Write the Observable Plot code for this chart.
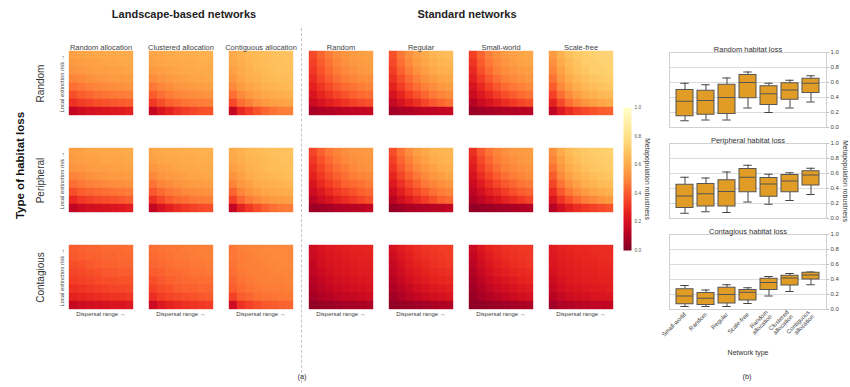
<!DOCTYPE html>
<html>
<head>
<meta charset="utf-8">
<script src="https://cdn.jsdelivr.net/npm/d3@7"></script>
<script src="https://cdn.jsdelivr.net/npm/@observablehq/plot@0.6"></script>
<style>
  html, body { margin: 0; padding: 0; background: #fff; }
  #fig { position: relative; width: 850px; height: 387px; overflow: hidden;
         font-family: "Liberation Sans", Arial, sans-serif; color: #222; }
  #fig > * { position: absolute; }
  .lbl { white-space: nowrap; transform: translate(-50%, -50%); line-height: 1; }
  .sep { left: 301px; top: 28px; height: 355px; width: 0; border-left: 1px dashed #c4c4c4; }
</style>
</head>
<body>
<div id="fig">
  <div class="sep"></div>
  <div class="lbl" style="left:184px; top:14px; font-size:11px; font-weight:bold; color:#222;">Landscape-based networks</div>
  <div class="lbl" style="left:467px; top:14px; font-size:11px; font-weight:bold; color:#222;">Standard networks</div>
  <div class="lbl" style="left:302px; top:377px; font-size:7.5px; color:#333;">(a)</div>
  <div class="lbl" style="left:747px; top:377px; font-size:7.5px; color:#333;">(b)</div>
  <div class="lbl" style="left:748px; top:352px; font-size:7px; color:#333;">Network type</div>
</div>
<script>
// ---------- categories ----------
const lossTypes = ["Random", "Peripheral", "Contagious"];
const networks = ["Random allocation", "Clustered allocation", "Contiguous allocation",
                  "Random", "Regular", "Small-world", "Scale-free"];
const boxPanels = ["Random habitat loss", "Peripheral habitat loss", "Contagious habitat loss"];
const boxCategories = ["Small-world", "Random", "Regular", "Scale-free",
                       "Random allocation", "Clustered allocation", "Contiguous allocation"];
const colorTicks = [0, 0.2, 0.4, 0.6, 0.8, 1.0];
const boxTicks = [0, 0.2, 0.4, 0.6, 0.8, 1.0];

// ---------- robustness grids: rows top (high extinction risk) to bottom, columns short to long dispersal ----------
const randomLossRandomAlloc = [
  [.57,.58,.58,.59,.59,.59,.60,.60],
  [.55,.56,.57,.57,.58,.58,.59,.59],
  [.53,.54,.55,.56,.56,.57,.57,.58],
  [.49,.50,.52,.53,.54,.55,.55,.56],
  [.44,.46,.48,.49,.50,.51,.52,.53],
  [.37,.40,.42,.44,.45,.46,.47,.48],
  [.30,.33,.35,.37,.38,.39,.40,.41],
  [.15,.18,.20,.21,.22,.23,.24,.26]];
const randomLossClusteredAlloc = [
  [.58,.59,.60,.60,.61,.61,.62,.62],
  [.57,.58,.59,.59,.60,.60,.61,.61],
  [.55,.56,.57,.58,.59,.59,.60,.60],
  [.51,.53,.55,.56,.57,.58,.58,.59],
  [.46,.49,.51,.53,.54,.55,.56,.57],
  [.40,.44,.47,.49,.50,.51,.52,.53],
  [.32,.37,.41,.43,.45,.46,.47,.48],
  [.16,.22,.26,.30,.33,.35,.37,.38]];
const randomLossContiguousAlloc = [
  [.60,.62,.64,.65,.66,.67,.68,.68],
  [.59,.61,.63,.65,.66,.67,.67,.68],
  [.57,.60,.62,.64,.65,.66,.67,.67],
  [.54,.58,.61,.62,.64,.65,.66,.66],
  [.50,.55,.58,.60,.62,.63,.64,.65],
  [.44,.50,.54,.57,.59,.60,.61,.62],
  [.36,.44,.48,.52,.54,.56,.57,.58],
  [.16,.28,.33,.38,.42,.45,.47,.48]];
const randomLossRandomNet = [
  [.36,.42,.47,.51,.53,.55,.56,.57],
  [.34,.40,.45,.49,.52,.54,.55,.56],
  [.32,.38,.43,.47,.50,.52,.54,.55],
  [.29,.35,.40,.44,.47,.49,.51,.52],
  [.26,.31,.36,.40,.43,.45,.47,.49],
  [.22,.27,.31,.35,.38,.41,.43,.44],
  [.17,.21,.25,.28,.31,.34,.36,.38],
  [.08,.10,.11,.12,.13,.14,.15,.16]];
const randomLossRegularNet = [
  [.38,.46,.52,.57,.60,.63,.65,.66],
  [.36,.44,.50,.55,.58,.61,.63,.64],
  [.33,.41,.47,.52,.56,.59,.61,.62],
  [.30,.37,.43,.48,.52,.55,.58,.59],
  [.26,.33,.39,.44,.48,.51,.54,.56],
  [.21,.27,.33,.38,.42,.46,.49,.51],
  [.16,.21,.26,.30,.35,.39,.42,.45],
  [.07,.09,.10,.12,.13,.14,.15,.16]];
const randomLossSmallWorldNet = [
  [.34,.42,.48,.52,.55,.57,.58,.59],
  [.31,.40,.46,.50,.53,.55,.57,.58],
  [.28,.37,.43,.48,.51,.53,.55,.56],
  [.25,.33,.39,.44,.48,.50,.52,.54],
  [.21,.28,.34,.39,.43,.46,.48,.50],
  [.17,.23,.28,.33,.37,.40,.43,.45],
  [.12,.17,.21,.25,.29,.32,.35,.37],
  [.05,.07,.08,.09,.10,.11,.12,.13]];
const randomLossScaleFreeNet = [
  [.55,.62,.67,.70,.72,.73,.74,.74],
  [.52,.60,.65,.68,.71,.72,.73,.74],
  [.49,.57,.63,.67,.69,.71,.72,.73],
  [.45,.54,.60,.64,.67,.69,.70,.71],
  [.40,.50,.56,.61,.64,.66,.68,.69],
  [.34,.44,.51,.56,.60,.62,.64,.65],
  [.26,.36,.44,.49,.53,.56,.58,.60],
  [.14,.23,.29,.33,.36,.38,.40,.41]];

const peripheralLossRandomAlloc = [
  [.56,.57,.58,.58,.59,.59,.59,.60],
  [.55,.56,.57,.57,.58,.58,.58,.59],
  [.53,.54,.55,.56,.56,.57,.57,.58],
  [.49,.50,.52,.53,.54,.55,.55,.56],
  [.44,.46,.48,.49,.50,.51,.52,.53],
  [.37,.40,.42,.43,.44,.45,.46,.47],
  [.28,.32,.34,.36,.37,.38,.39,.41],
  [.14,.17,.19,.20,.21,.22,.23,.25]];
const peripheralLossClusteredAlloc = [
  [.58,.59,.60,.60,.61,.61,.62,.62],
  [.57,.58,.59,.59,.60,.60,.61,.61],
  [.54,.56,.57,.58,.59,.59,.60,.60],
  [.50,.53,.55,.56,.57,.58,.58,.59],
  [.45,.49,.51,.53,.54,.55,.56,.57],
  [.39,.43,.46,.48,.50,.51,.52,.53],
  [.30,.36,.40,.43,.44,.46,.47,.48],
  [.15,.21,.25,.29,.32,.34,.36,.37]];
const peripheralLossContiguousAlloc = [
  [.60,.62,.64,.65,.66,.67,.67,.68],
  [.59,.61,.63,.64,.65,.66,.67,.67],
  [.57,.59,.62,.63,.65,.66,.66,.67],
  [.53,.57,.60,.62,.63,.64,.65,.66],
  [.49,.54,.57,.60,.61,.62,.63,.64],
  [.42,.49,.53,.56,.58,.59,.60,.61],
  [.34,.42,.47,.50,.53,.55,.56,.57],
  [.15,.26,.32,.37,.41,.44,.46,.47]];
const peripheralLossRandomNet = [
  [.35,.41,.46,.49,.52,.53,.54,.55],
  [.32,.38,.43,.47,.50,.52,.53,.54],
  [.29,.35,.40,.44,.47,.50,.52,.53],
  [.26,.32,.37,.41,.44,.47,.49,.50],
  [.22,.28,.33,.37,.41,.43,.45,.47],
  [.18,.23,.28,.32,.35,.38,.41,.43],
  [.13,.18,.22,.26,.29,.32,.35,.38],
  [.06,.07,.08,.10,.11,.12,.13,.15]];
const peripheralLossRegularNet = [
  [.37,.45,.51,.56,.59,.62,.63,.64],
  [.34,.42,.48,.53,.57,.60,.62,.63],
  [.31,.39,.45,.50,.54,.57,.60,.61],
  [.27,.35,.41,.46,.50,.54,.56,.58],
  [.23,.30,.36,.41,.46,.49,.52,.54],
  [.18,.25,.31,.36,.40,.44,.47,.49],
  [.13,.19,.24,.29,.33,.37,.41,.43],
  [.05,.07,.09,.10,.11,.12,.13,.15]];
const peripheralLossSmallWorldNet = [
  [.30,.39,.45,.49,.52,.54,.55,.56],
  [.27,.36,.42,.47,.50,.52,.54,.55],
  [.24,.33,.39,.44,.48,.50,.52,.53],
  [.21,.29,.35,.40,.44,.47,.49,.51],
  [.17,.24,.30,.35,.39,.42,.45,.47],
  [.14,.19,.25,.29,.33,.37,.40,.42],
  [.10,.14,.18,.22,.26,.29,.32,.35],
  [.04,.05,.06,.07,.08,.09,.10,.11]];
const peripheralLossScaleFreeNet = [
  [.52,.60,.65,.68,.70,.71,.72,.73],
  [.49,.57,.63,.66,.69,.70,.71,.72],
  [.45,.54,.60,.64,.67,.69,.70,.71],
  [.40,.50,.57,.61,.64,.66,.68,.69],
  [.35,.45,.52,.57,.61,.63,.65,.66],
  [.29,.39,.46,.51,.55,.58,.60,.62],
  [.22,.31,.38,.43,.47,.50,.53,.55],
  [.12,.19,.25,.29,.32,.34,.36,.38]];

const contagiousLossRandomAlloc = [
  [.40,.41,.42,.42,.43,.43,.43,.44],
  [.39,.40,.41,.41,.42,.42,.43,.43],
  [.37,.38,.39,.40,.41,.41,.42,.42],
  [.35,.36,.37,.38,.39,.39,.40,.40],
  [.33,.34,.35,.36,.37,.37,.38,.38],
  [.30,.31,.32,.33,.34,.35,.35,.36],
  [.26,.27,.28,.29,.30,.31,.31,.32],
  [.16,.18,.19,.20,.21,.22,.22,.23]];
const contagiousLossClusteredAlloc = [
  [.44,.45,.46,.46,.47,.47,.48,.48],
  [.43,.44,.45,.46,.46,.47,.47,.48],
  [.42,.43,.44,.45,.45,.46,.46,.47],
  [.40,.41,.43,.43,.44,.45,.45,.46],
  [.37,.39,.41,.42,.43,.43,.44,.44],
  [.34,.37,.38,.40,.41,.41,.42,.42],
  [.29,.33,.35,.36,.37,.38,.39,.40],
  [.17,.23,.26,.28,.30,.31,.32,.33]];
const contagiousLossContiguousAlloc = [
  [.46,.48,.49,.49,.50,.50,.50,.50],
  [.46,.47,.48,.49,.49,.50,.50,.50],
  [.45,.47,.48,.48,.49,.49,.50,.50],
  [.44,.46,.47,.48,.48,.49,.49,.49],
  [.42,.45,.46,.47,.48,.48,.48,.49],
  [.40,.43,.45,.46,.47,.47,.47,.48],
  [.34,.40,.42,.44,.45,.45,.46,.46],
  [.18,.30,.34,.37,.39,.40,.41,.42]];
const contagiousLossRandomNet = [
  [.18,.21,.23,.24,.25,.26,.26,.27],
  [.17,.20,.22,.23,.24,.25,.26,.26],
  [.15,.19,.21,.22,.23,.24,.25,.25],
  [.14,.17,.19,.21,.22,.23,.24,.24],
  [.12,.15,.17,.19,.20,.21,.22,.23],
  [.10,.13,.15,.17,.18,.19,.20,.21],
  [.08,.10,.12,.14,.15,.16,.17,.18],
  [.04,.05,.06,.07,.08,.08,.09,.10]];
const contagiousLossRegularNet = [
  [.20,.24,.27,.29,.31,.32,.33,.33],
  [.18,.22,.25,.28,.30,.31,.32,.33],
  [.16,.20,.24,.26,.28,.30,.31,.32],
  [.14,.18,.22,.24,.26,.28,.29,.30],
  [.12,.16,.19,.22,.24,.26,.27,.28],
  [.10,.13,.16,.19,.21,.23,.24,.25],
  [.07,.10,.13,.15,.17,.19,.20,.22],
  [.04,.05,.06,.07,.08,.09,.10,.11]];
const contagiousLossSmallWorldNet = [
  [.17,.22,.26,.28,.30,.31,.32,.32],
  [.15,.20,.24,.27,.29,.30,.31,.32],
  [.13,.18,.22,.25,.27,.29,.30,.31],
  [.11,.16,.20,.23,.25,.27,.28,.29],
  [.09,.13,.17,.20,.22,.24,.26,.27],
  [.07,.11,.14,.17,.19,.21,.23,.24],
  [.05,.08,.11,.13,.15,.17,.19,.20],
  [.03,.04,.05,.06,.07,.08,.09,.10]];
const contagiousLossScaleFreeNet = [
  [.24,.26,.27,.28,.28,.29,.29,.29],
  [.23,.25,.26,.27,.28,.28,.29,.29],
  [.22,.24,.25,.26,.27,.27,.28,.28],
  [.20,.23,.24,.25,.26,.26,.27,.27],
  [.18,.21,.23,.24,.25,.25,.26,.26],
  [.16,.19,.21,.22,.23,.24,.24,.25],
  [.12,.16,.18,.19,.20,.21,.22,.22],
  [.07,.10,.11,.12,.13,.14,.14,.15]];

// ---------- box summaries per network type: [whisker low, Q1, median, Q3, whisker high] ----------
const randomLossBoxes = [
  [0.09, 0.15, 0.35, 0.50, 0.59],
  [0.10, 0.17, 0.36, 0.49, 0.57],
  [0.10, 0.18, 0.40, 0.57, 0.66],
  [0.26, 0.39, 0.60, 0.70, 0.74],
  [0.20, 0.30, 0.45, 0.55, 0.59],
  [0.26, 0.37, 0.50, 0.59, 0.63],
  [0.34, 0.46, 0.59, 0.65, 0.69]];
const peripheralLossBoxes = [
  [0.07, 0.14, 0.30, 0.45, 0.55],
  [0.09, 0.16, 0.33, 0.46, 0.54],
  [0.08, 0.16, 0.36, 0.51, 0.62],
  [0.22, 0.35, 0.55, 0.66, 0.71],
  [0.19, 0.29, 0.46, 0.54, 0.59],
  [0.24, 0.35, 0.50, 0.58, 0.61],
  [0.32, 0.44, 0.58, 0.63, 0.67]];
const contagiousLossBoxes = [
  [0.04, 0.07, 0.18, 0.27, 0.32],
  [0.04, 0.06, 0.15, 0.22, 0.26],
  [0.04, 0.08, 0.20, 0.29, 0.33],
  [0.08, 0.12, 0.23, 0.26, 0.29],
  [0.18, 0.26, 0.36, 0.41, 0.44],
  [0.24, 0.32, 0.42, 0.45, 0.48],
  [0.33, 0.40, 0.46, 0.49, 0.50]];

// ---------- tables ----------
const heatmaps = [
  ["Random", randomLossRandomAlloc, randomLossClusteredAlloc, randomLossContiguousAlloc,
   randomLossRandomNet, randomLossRegularNet, randomLossSmallWorldNet, randomLossScaleFreeNet],
  ["Peripheral", peripheralLossRandomAlloc, peripheralLossClusteredAlloc, peripheralLossContiguousAlloc,
   peripheralLossRandomNet, peripheralLossRegularNet, peripheralLossSmallWorldNet, peripheralLossScaleFreeNet],
  ["Contagious", contagiousLossRandomAlloc, contagiousLossClusteredAlloc, contagiousLossContiguousAlloc,
   contagiousLossRandomNet, contagiousLossRegularNet, contagiousLossSmallWorldNet, contagiousLossScaleFreeNet]
];
const cells = [];
for (const [loss, ...grids] of heatmaps) {
  grids.forEach((grid, k) => grid.forEach((rowValues, row) => rowValues.forEach((value, col) =>
    cells.push({loss, network: networks[k], row, col, value}))));
}

const boxRows = [];
[randomLossBoxes, peripheralLossBoxes, contagiousLossBoxes].forEach((panel, i) =>
  panel.forEach(([low, q1, med, q3, high], j) =>
    boxRows.push({panel: boxPanels[i], type: boxCategories[j], low, q1, med, q3, high})));

// ---------- shared styling ----------
const font = "Liberation Sans, Arial, sans-serif";
const colorOptions = {type: "linear", scheme: "ylorrd", reverse: true, domain: [0, 1]};
const arrow = "\u2192";
const fig = document.getElementById("fig");
function place(el, left, top) {
  el.style.position = "absolute";
  el.style.left = left + "px";
  el.style.top = top + "px";
  fig.appendChild(el);
}

// ---------- heatmap grid ----------
const heat = Plot.plot({
  width: 620, height: 340,
  marginLeft: 65, marginTop: 49, marginRight: 3, marginBottom: 29,
  style: {background: "transparent", overflow: "visible", fontFamily: font},
  fx: {domain: networks, paddingInner: 0.157, paddingOuter: 0, axis: null},
  fy: {domain: lossTypes, paddingInner: 0.299, paddingOuter: 0, axis: null},
  x: {type: "band", domain: d3.range(8), padding: 0, axis: null},
  y: {type: "band", domain: d3.range(8), padding: 0, axis: null},
  color: colorOptions,
  marks: [
    Plot.cell(cells, {x: "col", y: "row", fx: "network", fy: "loss", fill: "value",
                      stroke: "value", strokeWidth: 0.4, inset: 0}),
    // column titles
    Plot.text(networks, {fx: d => d, fy: () => lossTypes[0], frameAnchor: "top", dy: -5,
                         text: d => d, fontSize: 7.5, fill: "#444"}),
    // row titles
    Plot.text(lossTypes, {fy: d => d, fx: () => networks[0], frameAnchor: "left", textAnchor: "middle",
                          dx: -27, rotate: -90, text: d => d, fontSize: 10, fill: "#333"}),
    Plot.text(lossTypes, {fy: d => d, fx: () => networks[0], frameAnchor: "left", textAnchor: "middle",
                          dx: -5.5, rotate: -90, text: () => "Local extinction risk " + arrow,
                          fontSize: 5.8, fill: "#444"}),
    Plot.text(["Type of habitat loss"], {fy: () => lossTypes[1], fx: () => networks[0], frameAnchor: "left",
                          textAnchor: "middle", dx: -47, dy: -15, rotate: -90, text: d => d,
                          fontSize: 11.5, fontWeight: "bold", fill: "#111"}),
    // bottom axis captions
    Plot.text(networks, {fx: d => d, fy: () => lossTypes[2], frameAnchor: "bottom", dy: 4,
                         text: () => "Dispersal range " + arrow, fontSize: 6, fill: "#444"})
  ]
});
place(heat, 0, 0);

// ---------- colour bar ----------
const bar = Plot.plot({
  width: 40, height: 157,
  marginLeft: 5, marginRight: 27, marginTop: 7, marginBottom: 7,
  style: {background: "transparent", overflow: "visible", fontFamily: font},
  x: {domain: [0, 1], axis: null},
  y: {domain: [0, 1], axis: null},
  color: colorOptions,
  marks: [
    Plot.raster({x1: 0, x2: 1, y1: 0, y2: 1, width: 1, height: 256, fill: (x, y) => y}),
    Plot.axisY(colorTicks, {anchor: "right", tickSize: 0, tickPadding: 3, tickFormat: ".1f",
                            fontSize: 4.8, fill: "#555", label: null}),
    Plot.text(["Metapopulation robustness"], {frameAnchor: "right", textAnchor: "middle", dx: 16,
                                               rotate: 90, text: d => d, fontSize: 6.8, fill: "#333"})
  ]
});
place(bar, 618, 100);

// ---------- box plots ----------
const boxes = Plot.plot({
  width: 210, height: 387,
  marginLeft: 29, marginRight: 24, marginTop: 51, marginBottom: 77,
  style: {background: "transparent", overflow: "visible", fontFamily: font},
  fy: {domain: boxPanels, paddingInner: 0.18, paddingOuter: 0, axis: null},
  x: {type: "band", domain: boxCategories, padding: 0.2, axis: null},
  y: {domain: [0, 1], axis: null},
  marks: [
    Plot.gridY(boxTicks.slice(1, -1), {stroke: "#dcdcdc", strokeOpacity: 1}),
    Plot.frame({stroke: "#d0d0d0"}),
    Plot.axisY(boxTicks, {anchor: "right", tickSize: 2, tickPadding: 2, tickFormat: ".1f",
                          fontSize: 6, fill: "#444", stroke: "#bbb", label: null}),
    Plot.axisX({anchor: "bottom", tickRotate: -45, tickSize: 0, tickPadding: 4, fontSize: 6,
                fill: "#444", label: null, tickFormat: d => d.replace(" ", "\n")}),
    Plot.ruleX(boxRows, {x: "type", y1: "low", y2: "q1", fy: "panel", stroke: "#444", strokeWidth: 1}),
    Plot.ruleX(boxRows, {x: "type", y1: "q3", y2: "high", fy: "panel", stroke: "#444", strokeWidth: 1}),
    Plot.tickY(boxRows, {x: "type", y: "low", fy: "panel", stroke: "#444", inset: 4.3}),
    Plot.tickY(boxRows, {x: "type", y: "high", fy: "panel", stroke: "#444", inset: 4.3}),
    Plot.barY(boxRows, {x: "type", y1: "q1", y2: "q3", fy: "panel", fill: "#e09c24",
                        stroke: "#555", strokeWidth: 1}),
    Plot.tickY(boxRows, {x: "type", y: "med", fy: "panel", stroke: "#555", strokeWidth: 1}),
    Plot.text(boxPanels, {fy: d => d, frameAnchor: "top", dy: -6, text: d => d, fontSize: 7.5, fill: "#333"}),
    Plot.text(["Metapopulation robustness"], {fy: () => boxPanels[1], frameAnchor: "right", textAnchor: "middle",
                                               dx: 19, rotate: 90, text: d => d, fontSize: 6.8, fill: "#333"})
  ]
});
place(boxes, 640, 0);
</script>
</body>
</html>
